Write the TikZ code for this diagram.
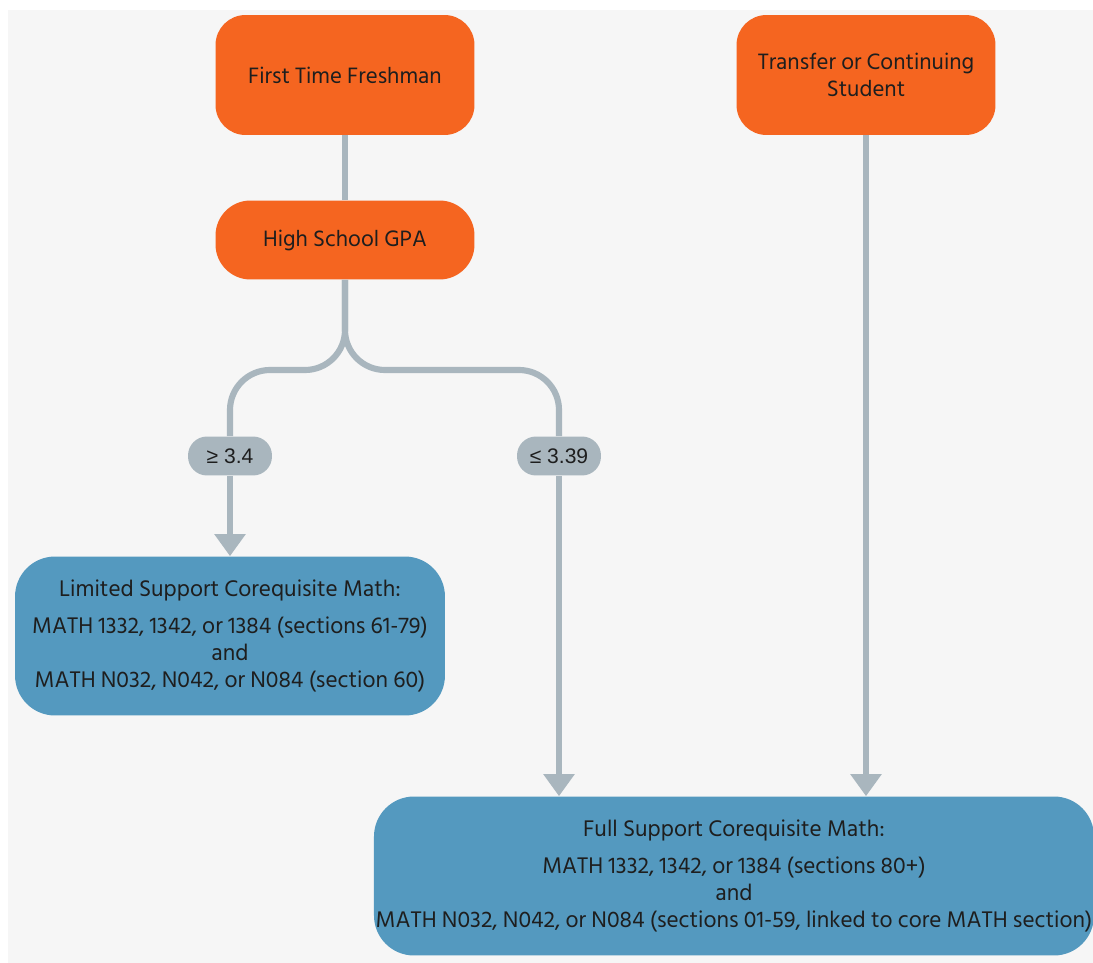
\documentclass[tikz,border=0pt]{standalone}
\usepackage{fontspec}
\setmainfont{Hind Siliguri}
\newfontfamily\lblfont{Liberation Sans}
\usetikzlibrary{arrows.meta}
\definecolor{boxorange}{HTML}{F56520}
\definecolor{boxblue}{HTML}{5499BF}
\definecolor{linegray}{HTML}{A9B6BE}
\definecolor{bggray}{HTML}{F6F6F6}
\definecolor{txtdark}{HTML}{1E1E1E}

\begin{document}
\begin{tikzpicture}[x=0.02cm,y=-0.02cm,
    start/.style={fill=boxorange,rounded corners=0.6cm,minimum width=5.18cm,minimum height=2.4cm,
      align=center,text=txtdark,font=\fontsize{13}{15.3}\selectfont},
    gpa/.style={start,rounded corners=0.7cm,minimum height=1.58cm},
    course/.style={fill=boxblue,rounded corners=0.8cm,minimum height=3.18cm,align=center,inner xsep=1pt,
      text=txtdark,font=\fontsize{13.2}{15.3}\selectfont},
    cut/.style={fill=linegray,rounded corners=0.38cm,minimum width=1.68cm,minimum height=0.78cm,
      text=txtdark,font=\lblfont\fontsize{12}{14}\selectfont},
    conn/.style={draw=linegray,line width=3.5pt},
    arr/.style={conn,-{Triangle[width=0.6cm,length=0.44cm]}}]
  \useasboundingbox (0,0) rectangle (1093,963);
  \fill[white] (0,0) rectangle (1093,963);
  \fill[bggray] (8,10) rectangle (1093,963);

  \node[start] (ftf) at (345,75) {First Time Freshman};
  \node[start] (tcs) at (866,75) {Transfer or Continuing\\Student};
  \node[gpa] (hs) at (345,240) {High School GPA};
  \node[cut] (ge) at (230,456) {≥ 3.4};
  \node[cut] (le) at (559,456) {≤ 3.39};
  \node[course,minimum width=8.6cm] (lim) at (230,636) {Limited Support Corequisite Math:\\[6pt]
    MATH 1332, 1342, or 1384 (sections 61-79)\\and\\MATH N032, N042, or N084 (section 60)};
  \node[course,minimum width=14.36cm] (full) at (734,876) {Full Support Corequisite Math:\\[6pt]
    MATH 1332, 1342, or 1384 (sections 80+)\\and\\
    MATH N032, N042, or N084 (sections 01-59, linked to core MATH section)};

  \draw[conn] (ftf) -- (hs);
  \draw[conn,rounded corners=0.8cm] (hs.south) -- (345,370) -- (230,370) -- (ge.north);
  \draw[conn,rounded corners=0.8cm] (hs.south) -- (345,370) -- (559,370) -- (le.north);
  \draw[arr] (ge) -- (lim);
  \draw[arr] (le) -- (le |- full.north);
  \draw[arr] (tcs) -- (tcs |- full.north);
\end{tikzpicture}
\end{document}
